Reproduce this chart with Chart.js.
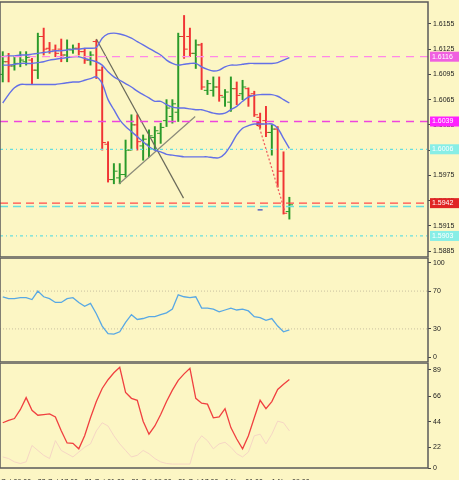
<!DOCTYPE html>
<html>
<head>
<meta charset="utf-8">
<script src="https://cdn.jsdelivr.net/npm/chart.js@4.4.0/dist/chart.umd.min.js"></script>
<style>
  body { margin: 0; background: #fcf6c4; width: 459px; height: 480px; overflow: hidden; }
  .pane { position: absolute; left: 0; width: 459px; }
</style>
</head>
<body>
<div class="pane" style="top:0;height:258px"><canvas id="price" width="459" height="258"></canvas></div>
<div class="pane" style="top:257px;height:106px"><canvas id="rsi" width="459" height="106"></canvas></div>
<div class="pane" style="top:362px;height:118px"><canvas id="stoch" width="459" height="118"></canvas></div>
<script>
// hourly bars, index 0..49
const highs = [1.6122,1.6120,1.6116,1.6122,1.6122,1.6114,1.6144,1.6150,1.6133,1.6130,1.6137,1.6136,1.6130,1.6132,1.6126,1.6122,1.6136,1.6104,1.6015,1.5989,1.5989,1.6017,1.6047,1.6047,1.6023,1.6029,1.6033,1.6037,1.6065,1.6065,1.6144,1.6165,1.6150,1.6136,1.6132,1.6088,1.6092,1.6092,1.6077,1.6092,1.6086,1.6088,1.6079,1.6075,1.6049,1.6057,1.6035,1.6033,1.6003,1.5949];
const lows = [1.6086,1.6086,1.6100,1.6104,1.6106,1.6084,1.6090,1.6118,1.6120,1.6116,1.6110,1.6110,1.6120,1.6118,1.6108,1.6106,1.6090,1.6005,1.5967,1.5965,1.5965,1.5973,1.6005,1.6005,1.5993,1.5997,1.6005,1.6013,1.6033,1.6037,1.6039,1.6114,1.6116,1.6102,1.6077,1.6071,1.6069,1.6063,1.6057,1.6051,1.6059,1.6065,1.6057,1.6045,1.6031,1.6021,1.5999,1.5961,1.5929,1.5923];
const opens = [1.6095,1.6110,1.6105,1.6108,1.6110,1.6112,1.6100,1.6140,1.6126,1.6124,1.6125,1.6118,1.6124,1.6126,1.6122,1.6112,1.6134,1.6100,1.6012,1.5970,1.5972,1.5976,1.6005,1.6035,1.6010,1.6012,1.6020,1.6025,1.6040,1.6045,1.6050,1.6140,1.6140,1.6120,1.6130,1.6076,1.6076,1.6080,1.6068,1.6062,1.6078,1.6072,1.6078,1.6072,1.6044,1.6040,1.6026,1.6030,1.5980,1.5932];
const closes = [1.6110,1.6105,1.6108,1.6112,1.6115,1.6100,1.6140,1.6125,1.6122,1.6120,1.6118,1.6125,1.6126,1.6122,1.6112,1.6118,1.6100,1.6014,1.5970,1.5980,1.5976,1.6005,1.6035,1.6015,1.6018,1.6022,1.6028,1.6032,1.6055,1.6060,1.6140,1.6125,1.6120,1.6130,1.6080,1.6084,1.6080,1.6070,1.6074,1.6078,1.6070,1.6080,1.6070,1.6047,1.6036,1.6026,1.6030,1.5980,1.5930,1.5940];
const bbUpper = [1.6116,1.6117,1.6117,1.6118,1.6118,1.6119,1.6120,1.6121,1.6122,1.6123,1.6123,1.6124,1.6125,1.6125,1.6126,1.6126,1.6127,1.6138,1.6143,1.6144,1.6143,1.6141,1.6138,1.6134,1.6130,1.6126,1.6122,1.6118,1.6112,1.6108,1.6106,1.6107,1.6108,1.6108,1.6104,1.6101,1.6099,1.6100,1.6104,1.6106,1.6106,1.6107,1.6108,1.6108,1.6108,1.6108,1.6108,1.6109,1.6112,1.6115];
const bbMiddle = [1.6106,1.6106,1.6107,1.6108,1.6108,1.6108,1.6109,1.6110,1.6112,1.6113,1.6114,1.6115,1.6116,1.6116,1.6114,1.6112,1.6110,1.6106,1.6098,1.6092,1.6088,1.6084,1.6080,1.6075,1.6071,1.6067,1.6063,1.6063,1.6059,1.6056,1.6055,1.6055,1.6054,1.6053,1.6053,1.6051,1.6049,1.6048,1.6049,1.6053,1.6057,1.6063,1.6068,1.6070,1.6071,1.6071,1.6071,1.6069,1.6065,1.6061];
const bbLower = [1.6061,1.6071,1.6079,1.6083,1.6083,1.6083,1.6083,1.6083,1.6083,1.6083,1.6084,1.6085,1.6086,1.6086,1.6088,1.6090,1.6092,1.6084,1.6065,1.6053,1.6041,1.6033,1.6027,1.6021,1.6015,1.6009,1.6005,1.6003,1.6000,1.5999,1.5998,1.5997,1.5997,1.5997,1.5997,1.5997,1.5996,1.5996,1.6001,1.6011,1.6023,1.6031,1.6034,1.6036,1.6036,1.6036,1.6036,1.6031,1.6019,1.6007];
const rsiValues = [64,62,62,63,63,61,70,64,62,58,58,62,63,58,54,57,46,33,25,24.5,27,37,45,40,41,43,43,45,47,51,66,64,63,64,52,52,51,48,50,52,50,51,49,43,42,39,41,33,27,29];
const stochMain = [43.2,45.2,46.9,54.5,65,54,49.7,50.3,50.9,48.3,36.2,25.7,25.4,20.6,31.9,47.5,61.6,72.9,80.5,86.5,91.3,69.5,64.4,62.7,44.6,33.3,40.4,50.3,61.6,71.5,80,85.6,90.4,64.4,60.2,59.3,47.5,48.3,55.4,39,29.1,20.6,31.9,47.5,62.7,55.4,61.6,72.1,76.6,80.8];
const stochSignal = [13.6,12.2,9.3,7.9,9.3,23.5,19.2,15,12.2,27.7,19.2,16.4,13.6,17.8,22,24.9,36.2,43.2,40.4,31.9,24.9,19.2,13.6,15,19.2,16.4,12.2,9.3,7.9,7.4,7.4,7.4,7.4,24.9,31.9,27.7,20.6,24.9,26.3,22,16.4,13.6,17.8,31.9,33.3,24.9,33.3,44.6,43.2,36.2];

const priceTicks = [1.5885,1.5915,1.5945,1.5975,1.6005,1.6035,1.6065,1.6095,1.6125,1.6155];
const timeTicks = [-2,6,14,22,30,38,46];
const timeLabels = ['28 Oct 09:00','28 Oct 17:00','31 Oct 01:00','31 Oct 09:00','31 Oct 17:00','1 Nov 01:00','1 Nov 09:00'];

// horizontal levels: value, line colour, dash, label box colour (null = no box)
const levelValues = [1.6116, 1.6039, 1.6006, 1.5942, 1.5938, 1.5903];
const levelColors = ['#ff88e8', '#ee44dd', '#66dede', '#ff4a4a', '#66dede', '#66dede'];
const levelDashes = [[8,6], [8,6], [3,3,1,3], [8,5], [8,5], [3,3,1,3]];
const levelBoxes = ['#f060e0', '#ff20ff', '#88eee6', '#e02424', null, '#88eee6'];

// drawn objects: trend lines [x1, y1, x2, y2]
const trendA = [16, 1.6137, 30.9, 1.5948];
const trendB = [19.9, 1.5965, 32.9, 1.6045];
const dottedDrop = [43.7, 1.6036, 48.2, 1.5933];

const BG = '#fcf6c4';
const GREEN = '#2a9a2a';
const RED = '#f03434';
const FONT = { family: 'Liberation Sans', size: 7 };
const X_MIN = -0.47, X_MAX = 72.7;

const idx = highs.map((_, i) => i);
const pts = arr => arr.map((v, i) => ({ x: i, y: v }));
const barColors = closes.map((c, i) => c >= opens[i] ? GREEN : RED);

const frame = {
    id: 'frame',
    beforeDraw(chart) {
        const { ctx } = chart;
        ctx.save();
        ctx.fillStyle = BG;
        ctx.fillRect(0, 0, chart.width, chart.height);
        ctx.restore();
    },
    afterDraw(chart) {
        const { ctx, chartArea: a } = chart;
        ctx.save();
        ctx.strokeStyle = '#5a5a5a';
        ctx.lineWidth = 1.5;
        ctx.strokeRect(a.left, a.top, a.right - a.left, a.bottom - a.top);
        ctx.restore();
    }
};

const levelBoxPlugin = {
    id: 'levelBoxes',
    afterDraw(chart) {
        const { ctx, chartArea: a, scales } = chart;
        ctx.save();
        ctx.font = '7px "Liberation Sans"';
        ctx.textBaseline = 'middle';
        levelValues.forEach((v, i) => {
            if (!levelBoxes[i]) return;
            const y = scales.y.getPixelForValue(v);
            ctx.fillStyle = levelBoxes[i];
            ctx.fillRect(a.right + 2, y - 5, 29, 10);
            ctx.fillStyle = '#ffffff';
            ctx.fillText(v.toFixed(4), a.right + 4, y);
        });
        ctx.restore();
    }
};

function noPad(s) {
    s.paddingLeft = 0; s.paddingRight = 0; s.paddingTop = 0; s.paddingBottom = 0;
}

function xAxis(show) {
    return {
        type: 'linear', min: X_MIN, max: X_MAX, offset: false,
        display: show,
        grid: { display: false },
        border: { display: false },
        afterBuildTicks: s => { s.ticks = timeTicks.map(v => ({ value: v })); },
        afterFit: s => { s.height = show ? 12 : 0; noPad(s); },
        ticks: {
            align: 'start', padding: 2, color: '#222', font: FONT, maxRotation: 0, autoSkip: false,
            callback: v => timeLabels[timeTicks.indexOf(v)]
        }
    };
}

function yAxis(min, max, ticks, fmt) {
    return {
        position: 'right', min: min, max: max,
        afterBuildTicks: s => { s.ticks = ticks.map(v => ({ value: v })); },
        afterFit: s => { s.width = 31; noPad(s); },
        grid: { drawOnChartArea: false, tickLength: 3, color: '#444' },
        border: { display: false },
        ticks: { color: '#222', font: FONT, padding: 2, callback: fmt }
    };
}

const baseOptions = {
    responsive: false, animation: false,
    plugins: { legend: { display: false }, tooltip: { enabled: false } }
};

function segment(seg, color, width, dash) {
    return {
        type: 'line', data: [{ x: seg[0], y: seg[1] }, { x: seg[2], y: seg[3] }],
        borderColor: color, borderWidth: width, borderDash: dash || [], pointRadius: 0
    };
}

const levelSets = levelValues.map((v, i) => ({
    type: 'line', data: [{ x: X_MIN, y: v }, { x: X_MAX, y: v }],
    borderColor: levelColors[i], borderWidth: 1.3, borderDash: levelDashes[i], pointRadius: 0
}));

const bandSet = arr => ({
    type: 'line', data: pts(arr), borderColor: '#6470e6', borderWidth: 1.4,
    pointRadius: 0, tension: 0.3
});

new Chart(document.getElementById('price'), {
    type: 'line',
    data: {
        datasets: [
            ...levelSets,
            bandSet(bbUpper), bandSet(bbMiddle), bandSet(bbLower),
            segment(trendA, '#6a6a5a', 1.2),
            segment(trendB, '#8a8a7a', 1.2),
            segment(dottedDrop, '#f06060', 1.3, [2, 2]),
            {
                type: 'bar', data: idx.map(i => ({ x: i, y: [lows[i], highs[i]] })),
                backgroundColor: barColors, barThickness: 1.3, grouped: false
            },
            {
                type: 'scatter', data: idx.map(i => ({ x: i - 0.35, y: opens[i] })),
                pointStyle: 'line', radius: 1.6, borderColor: barColors, borderWidth: 1
            },
            {
                type: 'scatter', data: idx.map(i => ({ x: i + 0.35, y: closes[i] })),
                pointStyle: 'line', radius: 1.6, borderColor: barColors, borderWidth: 1
            },
            {
                type: 'scatter', data: [{ x: dottedDrop[0], y: dottedDrop[1] }],
                pointStyle: 'star', radius: 2.5, borderColor: '#e02020', borderWidth: 1.2
            },
            {
                type: 'scatter', data: [{ x: 44, y: 1.5934 }],
                pointStyle: 'line', radius: 2.5, borderColor: '#3040c0', borderWidth: 1.2
            }
        ]
    },
    options: Object.assign({}, baseOptions, {
        layout: { autoPadding: false, padding: { top: 2, bottom: 1, left: 0, right: 0 } },
        scales: {
            x: xAxis(false),
            y: yAxis(1.5878, 1.6181, priceTicks, v => v.toFixed(4))
        }
    }),
    plugins: [frame, levelBoxPlugin]
});

new Chart(document.getElementById('rsi'), {
    type: 'line',
    data: {
        datasets: [
            { data: [{ x: X_MIN, y: 70 }, { x: X_MAX, y: 70 }], borderColor: '#c8c0a0', borderWidth: 1, borderDash: [1, 2], pointRadius: 0 },
            { data: [{ x: X_MIN, y: 30 }, { x: X_MAX, y: 30 }], borderColor: '#c8c0a0', borderWidth: 1, borderDash: [1, 2], pointRadius: 0 },
            { data: pts(rsiValues), borderColor: '#58a8e4', borderWidth: 1.3, pointRadius: 0 }
        ]
    },
    options: Object.assign({}, baseOptions, {
        layout: { autoPadding: false, padding: { top: 1, bottom: 1, left: 0, right: 0 } },
        scales: {
            x: xAxis(false),
            y: yAxis(-5, 105, [0, 30, 70, 100], v => String(v))
        }
    }),
    plugins: [frame]
});

new Chart(document.getElementById('stoch'), {
    type: 'line',
    data: {
        datasets: [
            { data: pts(stochSignal), borderColor: '#f6d6c4', borderWidth: 1, pointRadius: 0 },
            { data: pts(stochMain), borderColor: '#f04040', borderWidth: 1.3, pointRadius: 0 }
        ]
    },
    options: Object.assign({}, baseOptions, {
        layout: { autoPadding: false, padding: { top: 1, bottom: 0, left: 0, right: 0 } },
        scales: {
            x: xAxis(true),
            y: yAxis(4, 95, [4, 22, 44, 66, 89], v => v === 4 ? '0' : String(v))
        }
    }),
    plugins: [frame]
});
</script>
</body>
</html>
